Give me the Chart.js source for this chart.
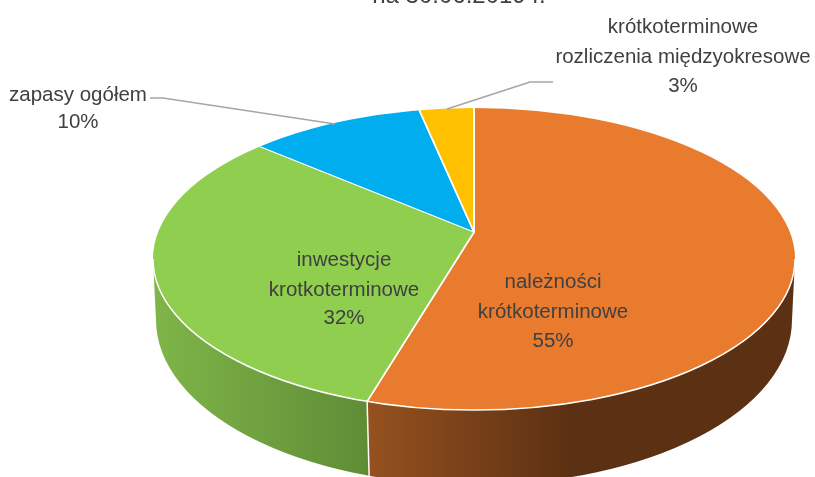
<!DOCTYPE html>
<html><head><meta charset="utf-8">
<style>html,body{margin:0;padding:0;background:#fff}#w{width:815px;height:477px;position:relative;overflow:hidden}canvas{display:block}</style>
<script src="https://cdn.jsdelivr.net/npm/chart.js@4"></script></head>
<body><div id="w"><canvas id="c" width="815" height="477"></canvas></div>
<script>
const categories = ["należności krótkoterminowe","inwestycje krotkoterminowe","zapasy ogółem","krótkoterminowe rozliczenia międzyokresowe"];
const values = [55,32,10,3];
const colors = ["#E97B2F","#8FCE4F","#00AEEF","#FFC000"];
const titleText = "na 30.06.2019 r.";
const labelLines = [["należności","krótkoterminowe","55%"],["inwestycje","krotkoterminowe","32%"],["zapasy ogółem","10%"],["krótkoterminowe","rozliczenia międzyokresowe","3%"]];

const G={ax:474,ay:232,sTop:.425,sBot:.515,k:1.8,cx:474,cy:259,rx:321,ry:151,bcx:474,bcy:320,brx:318,bry:165};
const labelPos=[{x:553,y:[282,312,341]},{x:344,y:[260,290,318]},{x:78,y:[95,122]},{x:683,y:[27,57,86]}];
const leaders=[[[150,98],[163,98],[335,124]],[[553,82],[530,82],[487,96],[447,109]]];

function junction(angle){
  const s=Math.sin(angle)>0?G.sBot:G.sTop, dx=Math.cos(angle), dy=Math.sin(angle)*s;
  let lo=0,hi=1000;
  for(let i=0;i<50;i++){const m=(lo+hi)/2,px=G.ax+dx*m-G.cx,py=G.ay+dy*m-G.cy;
    if(px*px/(G.rx*G.rx)+py*py/(G.ry*G.ry)<1)lo=m;else hi=m;}
  return {x:G.ax+dx*lo,y:G.ay+dy*lo};
}
function wallPath(ctx){
  ctx.beginPath();
  ctx.ellipse(G.cx,G.cy,G.rx,G.ry,0,0,Math.PI,false);
  ctx.ellipse(G.bcx,G.bcy,G.brx,G.bry,0,Math.PI,0,true);
  ctx.closePath();
}
const pie3d={id:'pie3d',
  beforeDatasetsDraw(chart){
    const ctx=chart.ctx, meta=chart.getDatasetMeta(0), arcs=meta.data, c0=arcs[0];
    const j=junction(arcs[0].endAngle);
    const W=chart.width,H=chart.height;
    ctx.save();ctx.beginPath();ctx.rect(0,0,j.x,H);ctx.clip();
    let g=ctx.createLinearGradient(G.cx-G.rx,0,j.x,0);
    g.addColorStop(0,"#7FB548");g.addColorStop(.5,"#6FA13F");g.addColorStop(1,"#5F8D37");
    wallPath(ctx);ctx.fillStyle=g;ctx.fill();ctx.restore();
    ctx.save();ctx.beginPath();ctx.rect(j.x,0,W-j.x,H);ctx.clip();
    g=ctx.createLinearGradient(j.x,0,j.x+200,0);
    g.addColorStop(0,"#96521F");g.addColorStop(1,"#5C3012");
    wallPath(ctx);ctx.fillStyle=g;ctx.fill();ctx.restore();
    ctx.save();ctx.strokeStyle="#fff";ctx.lineWidth=1.5;ctx.beginPath();ctx.moveTo(j.x,j.y);ctx.lineTo(j.x+2,H);ctx.stroke();ctx.restore();
    ctx.save();
    ctx.beginPath();ctx.ellipse(G.cx,G.cy,G.rx,G.ry,0,0,Math.PI*2);ctx.clip();
    [[0,G.ay,G.sTop],[G.ay,H-G.ay,G.sBot]].forEach(([y,h,s])=>{
      ctx.save();ctx.beginPath();ctx.rect(0,y,W,h);ctx.clip();
      ctx.transform(G.k,0,0,G.k*s,G.ax-G.k*c0.x,G.ay-G.k*s*c0.y);
      arcs.forEach(a=>a.draw(ctx));
      ctx.restore();
    });
    ctx.restore();
    ctx.save();ctx.strokeStyle="#fff";ctx.lineWidth=1.5;ctx.beginPath();ctx.ellipse(G.cx,G.cy,G.rx,G.ry,0,0,Math.PI);ctx.stroke();ctx.restore();
    return false;
  },
  afterDraw(chart){
    const ctx=chart.ctx;ctx.save();
    ctx.strokeStyle="#A6A6A6";ctx.lineWidth=1.6;
    leaders.forEach(l=>{ctx.beginPath();l.forEach((p,i)=>i?ctx.lineTo(p[0],p[1]):ctx.moveTo(p[0],p[1]));ctx.stroke();});
    ctx.fillStyle="#404040";ctx.font='20.5px "Liberation Sans"';ctx.textAlign="center";ctx.textBaseline="middle";
    labelLines.forEach((ls,i)=>ls.forEach((t,n)=>ctx.fillText(t,labelPos[i].x,labelPos[i].y[n])));
    ctx.font='24px "Liberation Sans"';
    ctx.fillText(titleText,459,-4);
    ctx.restore();
  }
};
new Chart(document.getElementById('c'),{type:'pie',
  data:{labels:categories,datasets:[{data:values,backgroundColor:colors,borderColor:"#fff",borderWidth:1}]},
  options:{responsive:false,animation:false,plugins:{legend:{display:false},tooltip:{enabled:false}}},
  plugins:[pie3d]});
</script></body></html>
